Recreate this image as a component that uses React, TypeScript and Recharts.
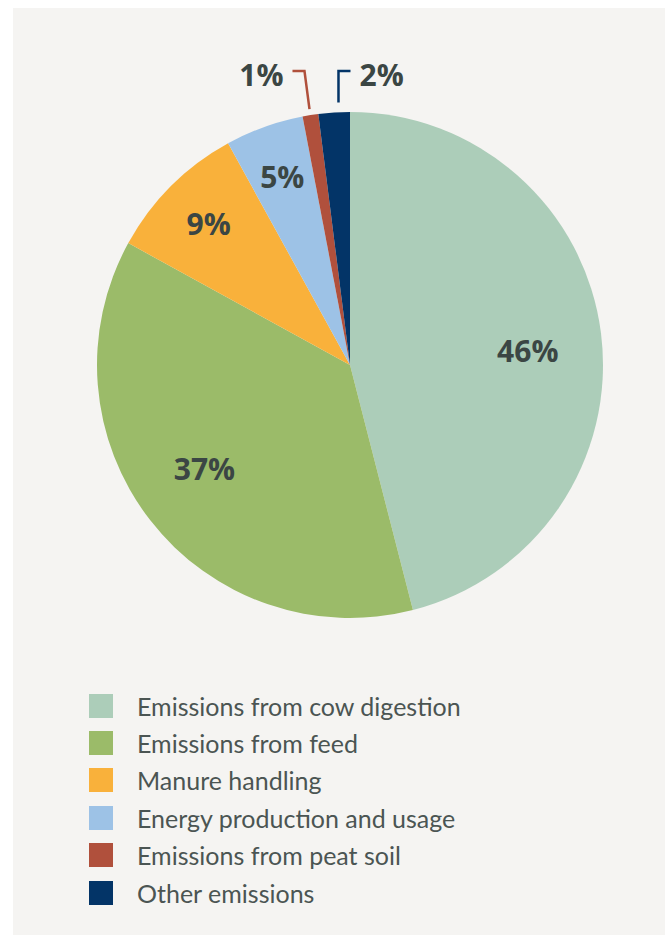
import { PieChart, Pie, Cell, Legend } from "recharts"

const categories = [
  "Emissions from cow digestion",
  "Emissions from feed",
  "Manure handling",
  "Energy production and usage",
  "Emissions from peat soil",
  "Other emissions",
]
const shares = [46, 37, 9, 5, 1, 2]
const colors = ["#accdb9", "#9bbb69", "#f9b13b", "#9dc2e6", "#b0503c", "#033467"]

const data = categories.map((name, i) => ({ name, value: shares[i], color: colors[i] }))

const RADIAN = Math.PI / 180
const labelColor = "#3b4644"

function renderLabel(props: any) {
  const { cx, cy, midAngle, outerRadius, value, index } = props
  const font = { fontFamily: "'Open Sans', sans-serif", fontWeight: 700, fontSize: 30, fill: labelColor }

  if (value <= 2) {
    // small slices get a bent leader line up to the label
    const cos = Math.cos(-midAngle * RADIAN)
    const sin = Math.sin(-midAngle * RADIAN)
    const side = index === 4 ? -1 : 1
    const r = outerRadius + (side < 0 ? 6 : 10)
    const px = cx + r * cos + (side > 0 ? 5 : 0)
    const py = cy + r * sin
    const ey = cy - outerRadius - 41
    const ex = side < 0 ? px - 5 : px
    const hx = ex + side * 12
    return (
      <g key={`lbl-${index}`}>
        <polyline
          points={`${px},${py} ${ex},${ey} ${hx},${ey}`}
          fill="none"
          stroke={colors[index]}
          strokeWidth={2.5}
        />
        <text x={hx + side * 9} y={ey + 3} textAnchor={side < 0 ? "end" : "start"} dominantBaseline="central" {...font}>
          {value}%
        </text>
      </g>
    )
  }

  // big slices: label sits a touch clockwise of the middle
  const big = value > 20
  const a = (midAngle - (big ? 2.5 : 0)) * RADIAN
  const k = big ? 0.705 : 0.79
  const x = cx + outerRadius * k * Math.cos(-a)
  const y = cy + outerRadius * k * Math.sin(-a)
  return (
    <text key={`lbl-${index}`} x={x} y={y} textAnchor="middle" dominantBaseline="central" {...font}>
      {value}%
    </text>
  )
}

function LegendList() {
  return (
    <div>
      {data.map((it, i) => (
        <div key={i} style={{ display: "flex", alignItems: "center", height: 37.4 }}>
          <div style={{ width: 24, height: 24, background: it.color, marginRight: 24 }} />
          <span style={{ fontFamily: "Lato, sans-serif", fontSize: 25, color: "#4b5553" }}>{it.name}</span>
        </div>
      ))}
    </div>
  )
}

export default function App() {
  return (
    <div style={{ position: "absolute", left: 0, top: 0, width: 665, height: 935, background: "#ffffff" }}>
      <div style={{ position: "absolute", left: 13, top: 8, width: 652, height: 927, background: "#f5f4f2" }} />
      <div style={{ position: "absolute", left: 0, top: 0 }}>
        <PieChart width={665} height={935} margin={{ top: 0, right: 0, bottom: 0, left: 0 }}>
          <Pie
            data={data}
            dataKey="value"
            nameKey="name"
            cx={350}
            cy={365}
            outerRadius={253}
            startAngle={90}
            endAngle={-270}
            stroke="none"
            labelLine={false}
            label={renderLabel}
            isAnimationActive={false}
          >
            {data.map((d, i) => (
              <Cell key={i} fill={d.color} />
            ))}
          </Pie>
          <Legend
            layout="vertical"
            content={LegendList}
            wrapperStyle={{ position: "absolute", left: 89, top: 687, width: 450 }}
          />
        </PieChart>
      </div>
    </div>
  )
}
